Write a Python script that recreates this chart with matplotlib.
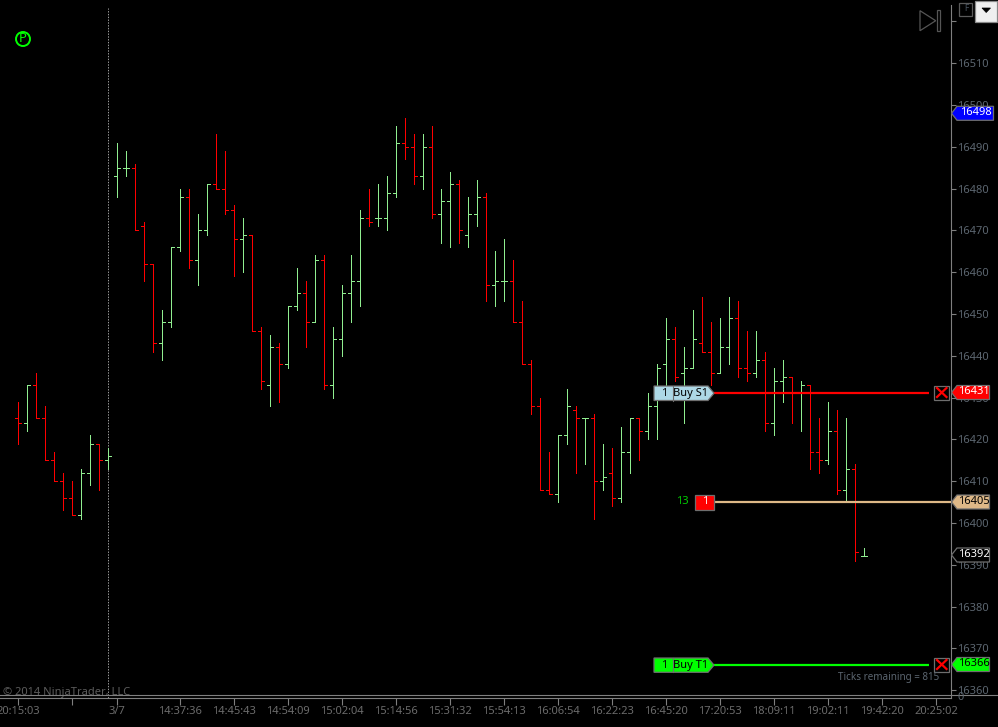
import matplotlib
matplotlib.use('Agg')
import matplotlib.pyplot as plt
from matplotlib.lines import Line2D
from matplotlib.patches import Polygon, Rectangle, Circle
from matplotlib.transforms import Affine2D
import numpy as np

plt.rcParams['font.family'] = ['Noto Sans', 'DejaVu Sans']

# prices are stored as offset from 16000
opens = np.array([425, 424, 433, 425, 415, 410, 406, 402, 412, 419, 415,
                  483, 485, 485, 471, 462, 443, 448, 466, 478, 463, 470, 481, 480, 475,
                  468, 469, 446, 433, 442, 438, 452, 455, 448, 463, 433, 444, 455, 458,
                  473, 473, 473, 479, 491, 490, 483, 490, 474, 477, 481, 469, 474, 478,
                  457, 458, 458, 448, 438, 428, 408, 407, 421, 427, 425, 425, 410, 412,
                  406, 417, 425, 422, 428, 438, 444, 436, 437, 443, 441, 436, 442, 449,
                  437, 436, 439, 424, 434, 435, 431, 433, 417, 415, 422, 408, 413, 392]) + 16000
highs = np.array([429, 433, 436, 428, 417, 412, 410, 413, 421, 419, 418,
                  491, 489, 486, 472, 462, 451, 466, 480, 480, 474, 481, 493, 489, 476,
                  473, 469, 447, 445, 443, 452, 461, 458, 464, 464, 447, 457, 464, 475,
                  480, 481, 483, 495, 497, 493, 493, 495, 480, 484, 482, 478, 482, 479,
                  465, 468, 463, 453, 439, 430, 417, 421, 432, 428, 425, 426, 419, 418,
                  423, 425, 425, 431, 438, 449, 447, 442, 451, 454, 448, 449, 454, 453,
                  446, 446, 441, 437, 439, 435, 434, 433, 425, 429, 427, 425, 414, 394]) + 16000
lows = np.array([419, 422, 425, 415, 410, 403, 402, 401, 409, 408, 413,
                 478, 483, 470, 458, 441, 439, 447, 465, 461, 457, 469, 480, 474, 459,
                 460, 446, 432, 428, 429, 437, 451, 442, 448, 432, 430, 440, 448, 452,
                 471, 471, 470, 478, 487, 481, 480, 473, 467, 466, 467, 466, 471, 453,
                 452, 453, 448, 438, 426, 408, 407, 405, 419, 412, 414, 401, 408, 404,
                 405, 412, 415, 420, 420, 433, 434, 424, 437, 441, 433, 436, 438, 435,
                 434, 435, 422, 421, 429, 424, 422, 413, 412, 414, 407, 405, 391, 392]) + 16000
closes = np.array([424, 433, 425, 415, 410, 406, 402, 412, 419, 415, 416,
                   485, 485, 470, 462, 443, 448, 466, 478, 463, 470, 481, 480, 475, 468,
                   469, 446, 434, 442, 438, 452, 455, 448, 463, 433, 444, 455, 458, 473,
                   472, 473, 479, 491, 490, 483, 490, 474, 477, 481, 470, 474, 478, 457,
                   458, 458, 448, 438, 428, 408, 407, 421, 428, 425, 425, 410, 411, 406,
                   417, 425, 422, 428, 437, 444, 435, 437, 444, 441, 436, 442, 449, 437,
                   436, 439, 424, 434, 435, 431, 433, 417, 415, 422, 408, 413, 393, 392]) + 16000

price_ticks = list(range(16360, 16530, 10))
# the 16520 label sits under the dropdown button in the original
price_labels = [str(p) if p < 16520 else '' for p in price_ticks]
time_tick_pos = [0, 6, 11, 18, 24, 30, 36, 42, 48, 54, 60, 66, 72, 78, 84, 90, 96, 102]
time_labels = ['20:15:03', '', '3/7', '14:37:36', '14:45:43', '14:54:09', '15:02:04', '15:14:56',
               '15:31:32', '15:54:13', '16:06:54', '16:22:23', '16:45:20', '17:20:53', '18:09:11',
               '19:02:11', '19:42:20', '20:25:02']

stop_price = 16431
entry_price = 16405
target_price = 16366
last_price = 16392
ask_price = 16498
entry_qty = 13
session_bar = 10

UP = '#90ee90'
DOWN = '#ff0000'
GREY = '#7f7f7f'
AXTEXT = '#5c6670'

fig = plt.figure(figsize=(9.98, 7.27), dpi=100, facecolor='black')
ax = fig.add_axes([0, 29 / 727, 950.5 / 998, 693 / 727])
ax.set_facecolor('black')
ax.set_xlim(-2.03, 103.6)
ax.set_ylim(16400 + (523 - 698) / 4.18, 16400 + (523 - 5) / 4.18)
for name, sp in ax.spines.items():
    sp.set_visible(name in ('bottom', 'right'))
    sp.set_color(GREY)
    sp.set_linewidth(0.8)

# pixel space for the chrome around the chart
px = Affine2D().scale(1 / 998, -1 / 727).translate(0, 1) + fig.transFigure


def box(x0, y0, x1, y1, fc, ec='#6e6e6e', z=6):
    fig.add_artist(Rectangle((x0, y0), x1 - x0, y1 - y0, transform=px, fc=fc, ec=ec, lw=0.9, zorder=z))


def txt(x, y, s, color, size=7.6, ha='center', z=8, weight='normal'):
    fig.text(x, y, s, transform=px, color=color, fontsize=size, ha=ha, va='center', zorder=z, fontweight=weight)


def right_tag(y0, y1, x1, fc, label, color, ec='#6e6e6e'):
    mid = (y0 + y1) / 2
    pts = [(951.5, mid), (957, y0), (x1, y0), (x1, y1), (957, y1)]
    fig.add_artist(Polygon(pts, closed=True, transform=px, fc=fc, ec=ec, lw=0.9, zorder=6))
    txt((957 + x1) / 2 + 0.5, mid - 0.5, label, color, size=8)


def order_tag(y0, y1, fc, qty, label):
    pts = [(654, y0), (708, y0), (714, (y0 + y1) / 2), (708, y1), (654, y1)]
    fig.add_artist(Polygon(pts, closed=True, transform=px, fc=fc, ec='#6e6e6e', lw=0.9, zorder=6))
    fig.add_artist(Line2D([673.5, 673.5], [y0, y1], transform=px, color='#6e6e6e', lw=0.8, zorder=7))
    txt(664, (y0 + y1) / 2, qty, 'black', size=8)
    txt(691, (y0 + y1) / 2, label, 'black', size=8)


def close_box(y0, y1):
    box(934.5, y0, 949, y1, 'black')
    for ys in ((y0 + 2.5, y1 - 2.5), (y1 - 2.5, y0 + 2.5)):
        fig.add_artist(Line2D([937, 946.5], ys, transform=px, color='#ff0000', lw=1.6, zorder=7))


# bars
idx = np.arange(len(opens))
colors = [DOWN if c < o else UP for o, c in zip(opens, closes)]
ax.vlines(idx, lows, highs, colors=colors, linewidth=0.72, antialiased=False, zorder=3)
ax.hlines(opens, idx - 0.33, idx, colors=colors, linewidth=0.72, antialiased=False, zorder=3)
ax.hlines(closes, idx, idx + 0.33, colors=colors, linewidth=0.72, antialiased=False, zorder=3)

# session break
ax.axvline(session_bar, color='#9a9a9a', lw=0.72, dashes=(1.4, 1.4), ymin=0, ymax=0.996, zorder=2)

# order lines
line_start = 77.2
ax.hlines(stop_price, line_start, 101.2, color='#ff0000', lw=1.6, zorder=4)
ax.hlines(entry_price, line_start, 103.6, color='#deb887', lw=1.6, zorder=4)
ax.hlines(target_price, line_start, 101.2, color='#00ff00', lw=1.6, zorder=4)

# axes ticks
ax.yaxis.tick_right()
ax.set_yticks(price_ticks)
ax.set_yticklabels(price_labels)
ax.tick_params(axis='y', colors=GREY, length=3.6, width=0.8, pad=1.2, labelsize=8, labelcolor=AXTEXT)
ax.set_xticks(time_tick_pos)
ax.set_xticklabels(time_labels)
ax.tick_params(axis='x', colors=GREY, length=5, width=0.8, pad=0.8, labelsize=8, labelcolor='#6b6b6b')

# frame lines and notes
fig.add_artist(Line2D([0, 998], [695, 695], transform=px, color=GREY, lw=0.8, zorder=5))
txt(958, 697.5, '0', AXTEXT, size=8, ha='left')
txt(3, 692, '\u00a9 2014 NinjaTrader, LLC', '#5c5c5c', size=8, ha='left', z=4)
txt(939, 677.5, 'Ticks remaining = 815', AXTEXT, size=7.1, ha='right')

# price tags
right_tag(106.3, 120.3, 993.5, '#0000ff', str(ask_price), 'white')
right_tag(385.5, 399.5, 989.5, '#ff0000', str(stop_price), 'white')
right_tag(495, 509, 989.5, '#deb887', str(entry_price), 'black')
right_tag(548, 562, 989.5, 'black', str(last_price), 'white')
right_tag(657.5, 671.5, 989.5, '#00ff00', str(target_price), 'black')

order_tag(386, 400.5, '#add8e6', '1', 'Buy S1')
order_tag(658, 672.3, '#00ff00', '1', 'Buy T1')
box(695, 495, 714.5, 509.5, '#ff0000')
txt(705, 501.5, '1', 'white', size=8)
txt(682.5, 501.5, str(entry_qty), '#00cc00', size=8)
close_box(385.5, 399.5)
close_box(657.5, 671.5)

# top right buttons
box(959.5, 3, 972.5, 15.5, 'black', ec='#5a5a5a')
txt(966, 8.5, 'F', '#4a5560', size=6)
box(975, 1, 997, 22, '#efefef', ec='#8a8a8a')
fig.add_artist(Polygon([(982, 8), (990.5, 8), (986.2, 12.5)], transform=px, fc='black', ec='black', lw=0.5, zorder=7))
fig.add_artist(Polygon([(920, 10.7), (920, 30.7), (935.7, 20.7)], transform=px, fill=False, ec='#555555', lw=0.9, zorder=7))
fig.add_artist(Rectangle((937.3, 10.3), 3, 20.4, transform=px, fill=False, ec='#555555', lw=0.9, zorder=7))

# P marker
fig.add_artist(Circle((23, 39), 7, transform=px, fill=False, ec='#00ff00', lw=1.4, zorder=7))
txt(23, 38.5, 'P', '#00ff00', size=9.5)

fig.savefig('out.png', dpi=100, facecolor='black')
